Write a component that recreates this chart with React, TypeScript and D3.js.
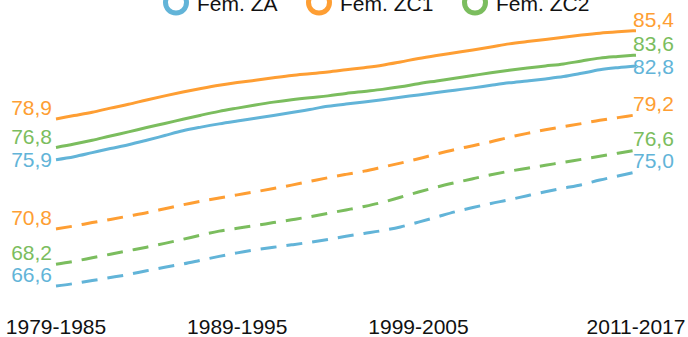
import React from "react";
import * as d3 from "d3";

const periods = [
  "1979-1985","1980-1986","1981-1987","1982-1988","1983-1989","1984-1990","1985-1991","1986-1992",
  "1987-1993","1988-1994","1989-1995","1990-1996","1991-1997","1992-1998","1993-1999","1994-2000",
  "1995-2001","1996-2002","1997-2003","1998-2004","1999-2005","2000-2006","2001-2007","2002-2008",
  "2003-2009","2004-2010","2005-2011","2006-2012","2007-2013","2008-2014","2009-2015","2010-2016",
  "2011-2017",
];
const tickLabels = ["1979-1985", "1989-1995", "1999-2005", "2011-2017"];

const femZC1Solid = [78.9,79.15,79.4,79.7,79.98,80.3,80.6,80.88,81.14,81.38,81.58,81.75,81.93,82.1,82.23,82.36,82.52,82.68,82.86,83.1,83.36,83.58,83.78,83.98,84.2,84.43,84.6,84.75,84.92,85.08,85.22,85.32,85.4];
const femZC2Solid = [76.8,77.05,77.33,77.65,77.95,78.27,78.57,78.88,79.18,79.46,79.7,79.93,80.14,80.32,80.47,80.6,80.78,80.93,81.08,81.27,81.5,81.7,81.9,82.1,82.3,82.48,82.65,82.8,82.95,83.17,83.38,83.5,83.6];
const femZASolid = [75.9,76.12,76.42,76.72,77.0,77.33,77.68,78.03,78.3,78.54,78.75,78.95,79.15,79.37,79.6,79.83,80.0,80.15,80.32,80.5,80.67,80.85,81.02,81.19,81.38,81.56,81.7,81.85,82.02,82.26,82.52,82.68,82.8];
const femZC1Dashed = [70.8,71.02,71.27,71.5,71.75,72.0,72.29,72.58,72.84,73.08,73.31,73.54,73.78,74.03,74.3,74.57,74.82,75.06,75.35,75.65,75.97,76.32,76.65,76.93,77.22,77.55,77.84,78.1,78.33,78.56,78.8,79.0,79.2];
const femZC2Dashed = [68.2,68.42,68.68,68.94,69.2,69.46,69.74,70.04,70.35,70.64,70.85,71.05,71.27,71.48,71.7,71.95,72.2,72.46,72.76,73.14,73.52,73.88,74.2,74.5,74.79,75.05,75.27,75.49,75.71,75.93,76.15,76.38,76.6];
const femZADashed = [66.6,66.78,67.0,67.22,67.45,67.72,67.98,68.22,68.5,68.78,69.04,69.26,69.45,69.63,69.82,70.03,70.26,70.47,70.68,70.95,71.3,71.68,72.06,72.38,72.68,72.95,73.25,73.54,73.8,74.06,74.4,74.7,75.0];

const legendNames = ["Fem. ZA", "Fem. ZC1", "Fem. ZC2"];
const COLORS: Record<string, string> = { ZA: "#62b4d8", ZC1: "#fe9e33", ZC2: "#7bbd5e" };

type Series = { key: string; values: number[]; dashed: boolean };
const series: Series[] = [
  { key: "ZC1", values: femZC1Solid, dashed: false },
  { key: "ZC2", values: femZC2Solid, dashed: false },
  { key: "ZA", values: femZASolid, dashed: false },
  { key: "ZC1", values: femZC1Dashed, dashed: true },
  { key: "ZC2", values: femZC2Dashed, dashed: true },
  { key: "ZA", values: femZADashed, dashed: true },
];

const W = 688, H = 337;
const FONT = "'Liberation Sans', Arial, Helvetica, sans-serif";
const FS = 21;

export default function App() {
  const x = d3.scalePoint<string>().domain(periods).range([56, 636]);
  const y = d3.scaleLinear().domain([66.6, 85.4]).range([286, 30.7]);
  const line = d3
    .line<number>()
    .x((_, i) => x(periods[i]) as number)
    .y((d) => y(d))
    .curve(d3.curveMonotoneX);

  const fmt = (v: number) => v.toFixed(1).replace(".", ",");

  // label placement: default above the line; if too close to previous, centred on line
  const placeLabels = (getVal: (s: Series) => number) => {
    const out: number[] = [];
    series.forEach((s, k) => {
      const ly = y(getVal(s));
      let c = ly - 11.5;
      if (k > 0 && c - out[k - 1] < 21) c = Math.max(ly, out[k - 1] + 21);
      out.push(c);
    });
    return out;
  };
  const leftC = placeLabels((s) => s.values[0]);
  const rightC = placeLabels((s) => s.values[s.values.length - 1]);

  const legendX = [176, 319, 475];
  const legendKeys = ["ZA", "ZC1", "ZC2"];

  return (
    <svg
      width={W}
      height={H}
      style={{ position: "absolute", left: 0, top: 0, background: "#fff" }}
      fontFamily={FONT}
    >
      {/* legend */}
      {legendKeys.map((k, i) => (
        <g key={k}>
          <circle cx={legendX[i]} cy={2.5} r={10.5} fill="none" stroke={COLORS[k]} strokeWidth={5} />
          <text x={legendX[i] + 21} y={11} fontSize={FS} fill="#111">
            {legendNames[i]}
          </text>
        </g>
      ))}

      {/* lines */}
      {series.map((s, i) => (
        <path
          key={i}
          d={line(s.values) || ""}
          fill="none"
          stroke={COLORS[s.key]}
          strokeWidth={3}
          strokeDasharray={s.dashed ? "16,10" : undefined}
        />
      ))}

      {/* value labels */}
      {series.map((s, i) => (
        <g key={"l" + i} fontSize={FS} fill={COLORS[s.key]}>
          <text x={52} y={leftC[i]} textAnchor="end" dy="0.36em">
            {fmt(s.values[0])}
          </text>
          <text x={633} y={rightC[i]} textAnchor="start" dy="0.36em">
            {fmt(s.values[s.values.length - 1])}
          </text>
        </g>
      ))}

      {/* x axis labels */}
      {tickLabels.map((t) => (
        <text key={t} x={x(t) as number} y={334} textAnchor="middle" fontSize={FS} fill="#111">
          {t}
        </text>
      ))}
    </svg>
  );
}
